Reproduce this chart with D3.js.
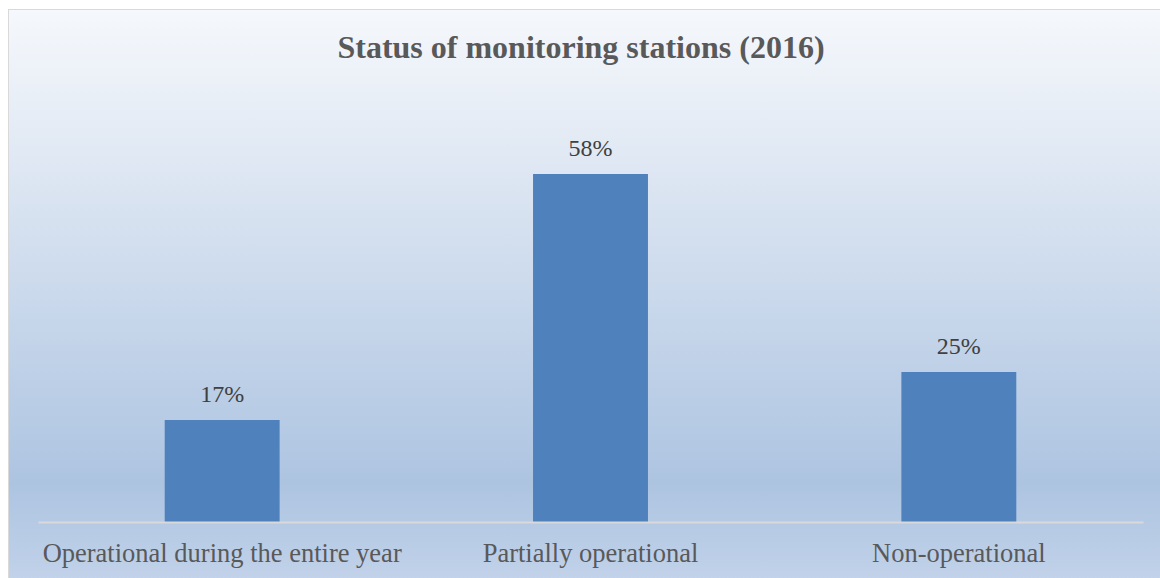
<!DOCTYPE html>
<html>
<head>
<meta charset="utf-8">
<script src="https://cdn.jsdelivr.net/npm/d3@7"></script>
<style>
  html, body { margin: 0; padding: 0; background: #ffffff; }
  svg { display: block; }
</style>
</head>
<body>
<svg id="chart" width="1160" height="578"></svg>
<script>
// -----------------------------
// data
// -----------------------------
var categories = ["Operational during the entire year", "Partially operational", "Non-operational"];
var values = [17, 58, 25];
var chartTitle = "Status of monitoring stations (2016)";

// -----------------------------
// layout
// -----------------------------
var W = 1160, H = 578;
var margin = {left: 38, right: 17, top: 102, bottom: 56};
var szFont = "'Liberation Serif', 'DejaVu Serif', serif";

var svg = d3.select("#chart");
var defs = svg.append("defs");

// background gradient, office style
var grad = defs.append("linearGradient")
  .attr("id", "bgGrad")
  .attr("x1", "0%").attr("y1", "0%")
  .attr("x2", "0%").attr("y2", "100%");
grad.append("stop").attr("offset", "0").attr("style", "stop-color:#f5f8fc");
grad.append("stop").attr("offset", "0.12").attr("style", "stop-color:#ecf1f8");
grad.append("stop").attr("offset", "0.82").attr("style", "stop-color:#adc4e1");
grad.append("stop").attr("offset", "1").attr("style", "stop-color:#c3d3ea");

svg.append("rect")
  .attr("x", 8.5).attr("y", 9.5)
  .attr("width", W + 10).attr("height", H)
  .attr("fill", "url(#bgGrad)")
  .attr("stroke", "#d9d9d9")
  .attr("stroke-width", 1);

// scales
var x = d3.scaleBand()
  .domain(categories)
  .range([margin.left, W - margin.right])
  .paddingInner(0.688)
  .paddingOuter(0.344);

var y = d3.scaleLinear()
  .domain([0, 70])
  .range([H - margin.bottom, margin.top]);

// bars
svg.append("g").selectAll("rect")
  .data(values)
  .join("rect")
  .attr("x", function(d, i){ return x(categories[i]); })
  .attr("y", function(d){ return y(d); })
  .attr("width", x.bandwidth())
  .attr("height", function(d){ return y(0) - y(d); })
  .attr("fill", "#4f81bd");

// value labels
svg.append("g").selectAll("text")
  .data(values)
  .join("text")
  .attr("x", function(d, i){ return x(categories[i]) + x.bandwidth() / 2; })
  .attr("y", function(d){ return y(d) - 18; })
  .attr("text-anchor", "middle")
  .attr("style", "font-family:" + szFont + ";font-size:24px;fill:#404040")
  .text(function(d){ return d + "%"; });

// category axis
var xAxis = svg.append("g")
  .attr("transform", "translate(0," + y(0) + ")")
  .call(d3.axisBottom(x).tickSize(0).tickPadding(0));
xAxis.select(".domain").attr("stroke", "#d9d9d9").attr("stroke-width", 2);
xAxis.selectAll("text")
  .attr("dy", 0)
  .attr("y", 40)
  .attr("style", "font-family:" + szFont + ";font-size:26.5px;fill:#595959");

// title
svg.append("text")
  .attr("x", 581)
  .attr("y", 58)
  .attr("text-anchor", "middle")
  .attr("style", "font-family:" + szFont + ";font-size:32px;font-weight:bold;fill:#595959")
  .text(chartTitle);
</script>
</body>
</html>
